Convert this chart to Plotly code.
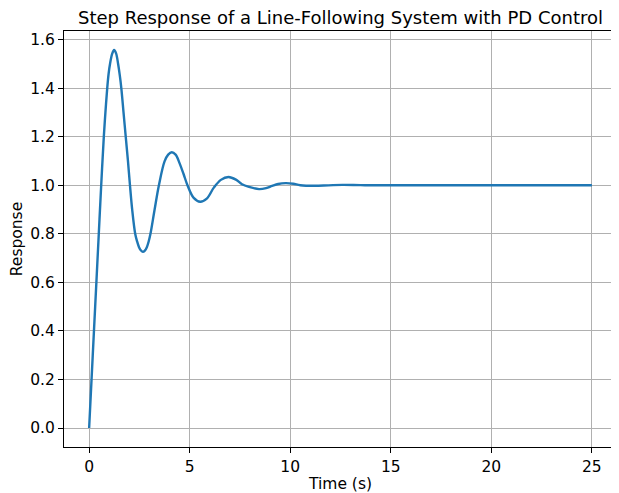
import plotly.graph_objects as go

# Values
time_s = [0, 0.12, 0.24, 0.36, 0.48, 0.60, 0.73, 0.81, 0.90, 0.97, 1.04, 1.14, 1.24, 1.34,
          1.44, 1.52, 1.60, 1.71, 1.82, 1.93, 2.03, 2.14, 2.29, 2.38, 2.48, 2.58, 2.67, 2.77,
          2.87, 2.96, 3.05, 3.25, 3.47, 3.75, 3.93, 4.11, 4.3, 4.5, 4.7,
          4.89, 5.2, 5.52, 5.85, 6.2, 6.55, 6.93, 7.3, 7.6, 7.95, 8.45, 8.8, 9.1, 9.4, 9.77,
          10.15, 10.5, 11.2, 11.9, 12.6, 13.5, 14.5, 16, 18, 20, 22, 25]
response = [0.0, 0.2, 0.4, 0.6, 0.8, 1.0, 1.2, 1.3, 1.4, 1.46, 1.5, 1.54, 1.557, 1.543,
            1.5, 1.455, 1.4, 1.3, 1.2, 1.1, 1.0, 0.9, 0.8, 0.77, 0.745, 0.731, 0.726, 0.731,
            0.745, 0.768, 0.8, 0.897, 1.0, 1.098, 1.126, 1.136, 1.126, 1.09, 1.045,
            1.0, 0.948, 0.932, 0.945, 0.99, 1.022, 1.034, 1.023, 1.004, 0.993, 0.984, 0.988, 0.997, 1.005, 1.0085,
            1.006, 1.0, 0.9975, 0.9995, 1.0015, 1.0003, 0.9998, 1.0, 1.0, 1.0, 1.0, 1.0]

x_ticks = [0, 5, 10, 15, 20, 25]
y_ticks = [0.0, 0.2, 0.4, 0.6, 0.8, 1.0, 1.2, 1.4, 1.6]

# page body has an 8px margin; figure is sized so axes land where the reference has them
OFF = 8
W, H = 619 - OFF, 493 - OFF
L, R, T, B = 64 - OFF, 2, 31 - OFF, 46

fig = go.Figure()
fig.add_trace(go.Scatter(x=time_s, y=response, mode="lines",
                         line=dict(color="#1f77b4", width=2.4, shape="spline", smoothing=1.0),
                         showlegend=False))

font = "DejaVu Sans, Liberation Sans, sans-serif"
axis_common = dict(showline=True, linecolor="black", linewidth=1.2, mirror=True,
                   ticks="outside", ticklen=5, tickwidth=1.2, tickcolor="black",
                   showgrid=True, gridcolor="#b0b0b0", gridwidth=1.2, zeroline=False,
                   tickfont=dict(family=font, size=15.5, color="black"))

fig.update_layout(
    width=W, height=H,
    margin=dict(l=L, r=R, t=T, b=B),
    paper_bgcolor="white", plot_bgcolor="white",
    title=dict(text="Step Response of a Line-Following System with PD Control",
               x=((64 + 617) / 2 - OFF) / W, xanchor="center", y=1 - (18 - OFF) / H, yanchor="middle",
               font=dict(family=font, size=18, color="black")),
    xaxis=dict(range=[-1.25, 26.25], tickvals=x_ticks, ticktext=[str(v) for v in x_ticks],
               title=dict(text="Time (s)", standoff=3, font=dict(family=font, size=15.5, color="black")),
               automargin=False, **axis_common),
    yaxis=dict(range=[-0.078, 1.635], tickvals=y_ticks, ticktext=[f"{v:.1f}" for v in y_ticks],
               title=dict(text="Response", standoff=6, font=dict(family=font, size=15.5, color="black")),
               automargin=False, **axis_common),
)

fig.write_html("out.html")
